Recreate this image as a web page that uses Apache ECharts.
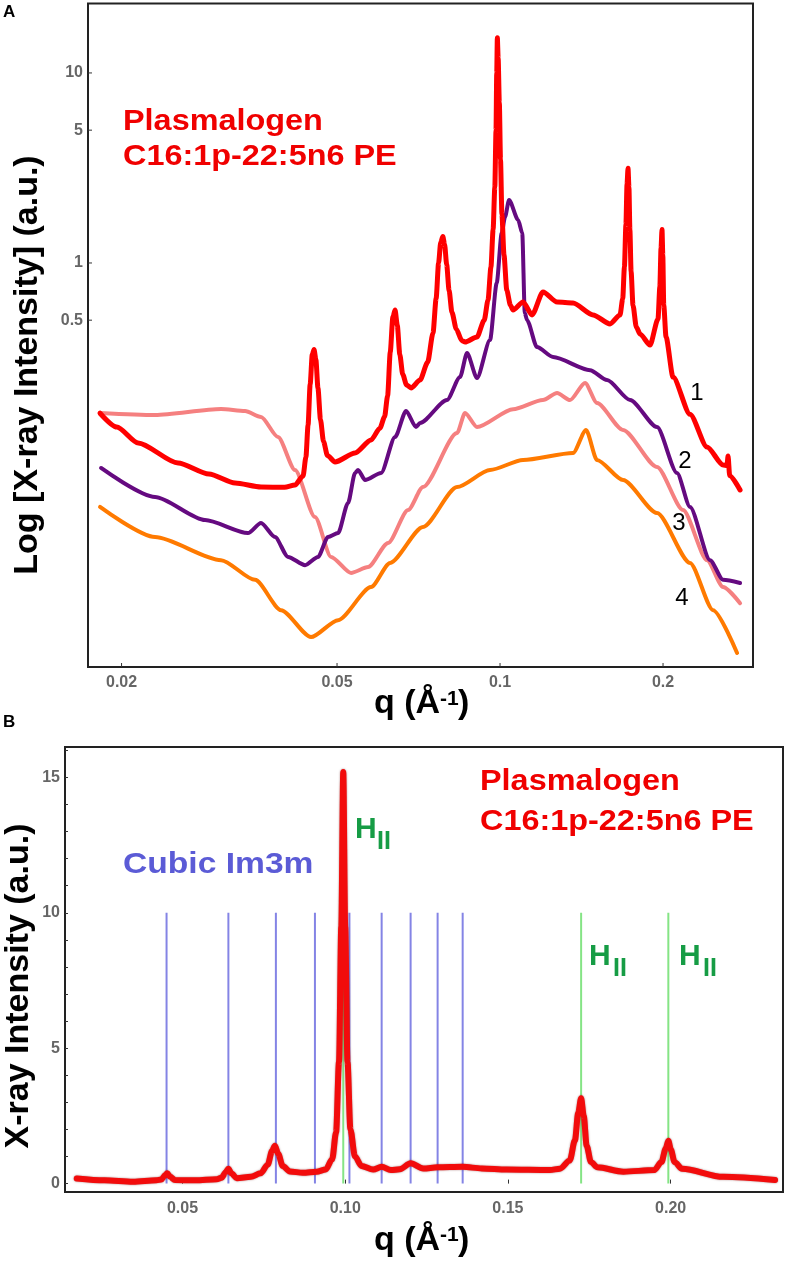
<!DOCTYPE html>
<html><head><meta charset="utf-8">
<script src="https://cdn.jsdelivr.net/npm/echarts@6/dist/echarts.min.js"></script>
<style>html,body{margin:0;padding:0;background:#fff}#c{width:790px;height:1268px}</style>
</head><body><div id="c"></div>
<script>
// ---------- Panel A: log-log SAXS curves, [q (1/Å), intensity] ----------
const curve1 = [[0.01825,0.162],[0.0196,0.137],[0.02146,0.113],[0.02543,0.0886],[0.029,0.0775],[0.03241,0.0695],[0.03619,0.0662],[0.040,0.066],[0.04182,0.0679],[0.04327,0.0756],[0.0438,0.095],[0.0442,0.14],[0.0446,0.23],[0.0450,0.33],[0.04534,0.35],[0.0457,0.31],[0.0461,0.22],[0.0466,0.15],[0.0472,0.115],[0.0480,0.097],[0.04958,0.0897],[0.05398,0.100],[0.05778,0.117],[0.0600,0.135],[0.0612,0.155],[0.0620,0.20],[0.0627,0.34],[0.0634,0.52],[0.0640,0.565],[0.0646,0.47],[0.0653,0.33],[0.0661,0.26],[0.0672,0.228],[0.0685,0.220],[0.07115,0.242],[0.0735,0.30],[0.0752,0.428],[0.0762,0.65],[0.0770,1.0],[0.0777,1.28],[0.0784,1.38],[0.0790,1.25],[0.0797,0.98],[0.0805,0.72],[0.0815,0.55],[0.0830,0.45],[0.0850,0.39],[0.0862,0.384],[0.09067,0.408],[0.0935,0.50],[0.09502,0.639],[0.0962,0.95],[0.0971,1.5],[0.0978,2.5],[0.0983,5.0],[0.0986,10],[0.09886,15.3],[0.0992,12],[0.0997,7],[0.1002,3.5],[0.1008,1.8],[0.1017,1.1],[0.1029,0.72],[0.1045,0.60],[0.10568,0.566],[0.11028,0.623],[0.11459,0.533],[0.12006,0.704],[0.12745,0.623],[0.1364,0.616],[0.1485,0.533],[0.15963,0.478],[0.16657,0.533],[0.1685,0.65],[0.1697,0.95],[0.1708,1.6],[0.1716,2.6],[0.17234,3.15],[0.1730,2.5],[0.1737,1.5],[0.1746,0.9],[0.1760,0.6],[0.1785,0.46],[0.18135,0.423],[0.18923,0.370],[0.19577,0.507],[0.1973,0.75],[0.1983,1.2],[0.19913,1.5],[0.1998,1.1],[0.2006,0.6],[0.20255,0.408],[0.20867,0.251],[0.22432,0.160],[0.24118,0.1075],[0.25815,0.0865],[0.2625,0.086],[0.2637,0.0964],[0.2655,0.076],[0.27751,0.0639]];
const curve2 = [[0.01833,0.0834],[0.02306,0.0587],[0.02852,0.0444],[0.03424,0.0379],[0.03619,0.0428],[0.03841,0.0361],[0.0406,0.0284],[0.04364,0.0257],[0.04611,0.0284],[0.04812,0.0361],[0.05022,0.0379],[0.0524,0.0546],[0.05398,0.0785],[0.05468,0.0814],[0.05633,0.0721],[0.06029,0.0785],[0.06399,0.1214],[0.06706,0.1664],[0.06995,0.137],[0.07115,0.1438],[0.07981,0.19],[0.08436,0.251],[0.0869,0.336],[0.09067,0.248],[0.09584,0.393],[0.0986,0.785],[0.1007,1.438],[0.10215,1.746],[0.1039,2.146],[0.108,1.684],[0.1099,1.438],[0.1111,0.545],[0.1122,0.50],[0.117,0.361],[0.1253,0.320],[0.14663,0.273],[0.15762,0.242],[0.17382,0.19],[0.19494,0.137],[0.21226,0.0785],[0.22432,0.052],[0.24426,0.0273],[0.25815,0.0215],[0.27751,0.0207]];
const curve3 = [[0.01825,0.1624],[0.02306,0.1585],[0.03053,0.1704],[0.03381,0.1664],[0.03619,0.1547],[0.0389,0.1214],[0.04182,0.0814],[0.04553,0.046],[0.04874,0.0284],[0.05307,0.0234],[0.05705,0.0251],[0.06212,0.0336],[0.06763,0.0501],[0.07206,0.0662],[0.08329,0.1274],[0.08617,0.1624],[0.09067,0.137],[0.1057,0.17],[0.1200,0.19],[0.12745,0.2069],[0.13468,0.1901],[0.14355,0.2336],[0.15105,0.1833],[0.1687,0.1322],[0.19494,0.0844],[0.21777,0.0501],[0.24118,0.0273],[0.25815,0.0197],[0.27751,0.0162]];
const curve4 = [[0.01825,0.052],[0.02306,0.0361],[0.03053,0.0273],[0.03528,0.0215],[0.03941,0.0149],[0.04477,0.01075],[0.05022,0.0132],[0.05778,0.0197],[0.06265,0.0264],[0.07206,0.0408],[0.08329,0.0662],[0.09584,0.0814],[0.11028,0.0919],[0.1364,0.1],[0.14415,0.1322],[0.15105,0.0919],[0.1687,0.0721],[0.19494,0.0483],[0.22432,0.0264],[0.24742,0.0149],[0.27402,0.00886]];
const aTickX = [0.02, 0.05, 0.1, 0.2];
const aTickXText = ['0.02', '0.05', '0.1', '0.2'];
const aTickY = [0.5, 1, 5, 10];
const aTickYText = ['0.5', '1', '5', '10'];
const aRangeX = [0.01734, 0.2932];
const aRangeY = [0.00748, 23.2];

// ---------- Panel B: linear scan with Bragg reflections ----------
const scanB = [[0.0175,0.19],[0.0260,0.12],[0.0348,0.07],[0.0420,0.12],[0.0435,0.15],[0.0446,0.30],[0.0453,0.38],[0.0462,0.25],[0.0477,0.13],[0.0540,0.12],[0.0605,0.16],[0.0620,0.22],[0.0633,0.42],[0.0641,0.55],[0.0650,0.38],[0.0667,0.20],[0.0710,0.25],[0.0740,0.38],[0.0762,0.70],[0.0775,1.20],[0.0784,1.40],[0.0794,1.10],[0.0808,0.65],[0.0830,0.45],[0.0870,0.40],[0.0912,0.44],[0.0940,0.52],[0.0960,0.90],[0.0972,1.9],[0.0981,4.5],[0.0988,9.5],[0.0994,15.2],[0.1000,9.5],[0.1007,4.5],[0.1016,2.0],[0.1030,1.0],[0.1050,0.65],[0.1086,0.52],[0.1112,0.62],[0.1140,0.50],[0.1168,0.53],[0.1201,0.75],[0.1240,0.56],[0.1284,0.60],[0.1361,0.62],[0.1420,0.56],[0.1496,0.52],[0.1629,0.50],[0.1660,0.55],[0.1690,0.85],[0.1706,1.6],[0.1716,2.6],[0.1725,3.15],[0.1733,2.5],[0.1742,1.4],[0.1755,0.8],[0.1775,0.6],[0.1855,0.44],[0.1950,0.50],[0.1972,0.80],[0.1985,1.3],[0.1993,1.58],[0.2001,1.25],[0.2012,0.80],[0.2035,0.55],[0.2162,0.25],[0.2321,0.13]];
const cubicQ = [0.0451, 0.0641, 0.0787, 0.0907, 0.1013, 0.1112, 0.1201, 0.1284, 0.1361];
const hexQ = [0.0994, 0.1725, 0.1993];
const markerSpan = [0, 10];
const bTickX = [0.05, 0.10, 0.15, 0.20];
const bTickY = [0, 5, 10, 15];
const bMinorY = [0,1,2,3,4,5,6,7,8,9,10,11,12,13,14,15,16];
const bRangeX = [0.01389, 0.23454];
const bRangeY = [-0.31, 16.12];

const F = '"Liberation Sans", Arial, Helvetica, sans-serif';
const chart = echarts.init(document.getElementById('c'), null, {renderer: 'canvas'});

function curveSeries(data, color, width, z) {
  return {type: 'line', xAxisIndex: 0, yAxisIndex: 0, data: data, symbol: 'none', showSymbol: false,
    smooth: 0.25, smoothMonotone: 'x', lineStyle: {color: color, width: width, cap: 'round', join: 'round'},
    z: z, silent: true, emphasis: {disabled: true}, animation: false};
}
function markerSeries(q, color) {
  return {type: 'line', xAxisIndex: 1, yAxisIndex: 1, data: [[q, markerSpan[0]], [q, markerSpan[1]]],
    symbol: 'none', lineStyle: {color: color, width: 2}, z: 2, silent: true, emphasis: {disabled: true}, animation: false};
}
const hiddenAxis = {axisLine: {show: false}, axisTick: {show: false}, axisLabel: {show: false}, splitLine: {show: false}, minorTick: {show: false}};
const tickLabel = {color: '#666', fontWeight: 'bold', fontSize: 16, fontFamily: F};

const option = {
  animation: false,
  backgroundColor: '#ffffff',
  grid: [
    {left: 88, right: 37, top: 3.5, bottom: 601, show: true, borderColor: '#222', borderWidth: 2, outerBoundsMode: 'none'},
    {left: 65, right: 7, top: 747, bottom: 76, show: true, borderColor: '#222', borderWidth: 2, outerBoundsMode: 'none'}
  ],
  xAxis: [
    Object.assign({gridIndex: 0, type: 'log', logBase: 10, min: aRangeX[0], max: aRangeX[1]}, hiddenAxis),
    {gridIndex: 1, type: 'value', min: bRangeX[0], max: bRangeX[1], axisLine: {show: false}, splitLine: {show: false},
      axisTick: {show: true, inside: true, length: 4, customValues: bTickX, lineStyle: {color: '#333'}},
      axisLabel: Object.assign({customValues: bTickX, margin: 9, formatter: v => v.toFixed(2)}, tickLabel)}
  ],
  yAxis: [
    Object.assign({gridIndex: 0, type: 'log', logBase: 10, min: aRangeY[0], max: aRangeY[1]}, hiddenAxis),
    {gridIndex: 1, type: 'value', min: bRangeY[0], max: bRangeY[1], axisLine: {show: false}, splitLine: {show: false},
      axisTick: {show: true, inside: true, length: 3, customValues: bMinorY, lineStyle: {color: '#333'}},
      axisLabel: Object.assign({customValues: bTickY, margin: 5, formatter: v => String(v)}, tickLabel)}
  ],
  series: [
    curveSeries(curve4, '#ff7a00', 4, 3),
    curveSeries(curve3, '#f58080', 4, 4),
    curveSeries(curve2, '#650a80', 4, 5),
    curveSeries(curve1, '#ff0000', 5, 6)
  ].concat(cubicQ.map(q => markerSeries(q, 'rgba(110,110,225,0.85)')))
   .concat(hexQ.map(q => markerSeries(q, 'rgba(120,225,120,0.9)')))
   .concat([{type: 'line', xAxisIndex: 1, yAxisIndex: 1, data: scanB, symbol: 'none', showSymbol: false,
      smooth: 0.3, smoothMonotone: 'x', lineStyle: {color: '#f20c0c', width: 6, cap: 'round', join: 'round',
      shadowColor: 'rgba(90,0,0,0.5)', shadowBlur: 2}, z: 6, silent: true, emphasis: {disabled: true}, animation: false}])
};
chart.setOption(option);

// ---------- text and panel A ticks (positions from the library's scales) ----------
const g = [];
function txt(text, x, y, font, fill, align, extra) {
  return Object.assign({type: 'text', x: x, y: y, silent: true, z: 100,
    style: {text: text, font: font, fill: fill, align: align || 'left', verticalAlign: 'middle'}}, extra || {});
}
const axBottom = chart.convertToPixel({yAxisIndex: 0}, aRangeY[0]);
const axLeft = chart.convertToPixel({xAxisIndex: 0}, aRangeX[0]);
aTickX.forEach((v, i) => {
  const x = chart.convertToPixel({xAxisIndex: 0}, v);
  g.push({type: 'line', silent: true, z: 100, shape: {x1: x, y1: axBottom, x2: x, y2: axBottom - 4}, style: {stroke: '#333', lineWidth: 1}});
  g.push(txt(aTickXText[i], x, axBottom + 16, 'bold 16px ' + F, '#666', 'center'));
});
aTickY.forEach((v, i) => {
  const y = chart.convertToPixel({yAxisIndex: 0}, v);
  g.push({type: 'line', silent: true, z: 100, shape: {x1: axLeft, y1: y, x2: axLeft + 4, y2: y}, style: {stroke: '#333', lineWidth: 1}});
  g.push(txt(aTickYText[i], axLeft - 5, y, 'bold 16px ' + F, '#666', 'right'));
});

// panel letters
g.push(txt('A', 3, 12, 'bold 17px ' + F, '#000'));
g.push(txt('B', 3, 722, 'bold 17px ' + F, '#000'));

// axis titles
g.push(txt('Log [X-ray Intensity] (a.u.)', 28, 365, 'bold 34px ' + F, '#000', 'center', {rotation: Math.PI / 2}));
g.push(txt('X-ray Intensity (a.u.)', 19, 986, 'bold 34px ' + F, '#000', 'center', {rotation: Math.PI / 2}));
[[704, 699], [1241, 1235]].forEach(function (yy) {
  g.push(txt('q (Å', 374, yy[0], 'bold 34px ' + F, '#000'));
  g.push(txt('-1', 440, yy[1], 'bold 21px ' + F, '#000'));
  g.push(txt(')', 458, yy[0], 'bold 34px ' + F, '#000'));
});

// annotations
const red = '#f00000';
g.push(txt('Plasmalogen', 123, 122, 'bold 30px ' + F, red, 'left', {scaleX: 1.08}));
g.push(txt('C16:1p-22:5n6 PE', 123, 157, 'bold 30px ' + F, red, 'left', {scaleX: 1.08}));
g.push(txt('Plasmalogen', 480, 782, 'bold 30px ' + F, red, 'left', {scaleX: 1.08}));
g.push(txt('C16:1p-22:5n6 PE', 480, 822, 'bold 30px ' + F, red, 'left', {scaleX: 1.08}));
g.push(txt('Cubic Im3m', 123, 865, 'bold 30px ' + F, '#5b5bd6', 'left', {scaleX: 1.12}));
const green = '#169c45';
[[355, 830, 377, 842], [589, 957, 613, 969], [679, 957, 703, 969]].forEach(function (p) {
  g.push(txt('H', p[0], p[1], 'bold 30px ' + F, green));
  g.push(txt('II', p[2], p[3], 'bold 25px ' + F, green));
});
// curve numbers
[['1', 697, 393], ['2', 685, 461], ['3', 679, 523], ['4', 682, 598]].forEach(function (p) {
  g.push(txt(p[0], p[1], p[2], '24px ' + F, '#000', 'center'));
});

chart.setOption({graphic: g});
</script>
</body></html>
